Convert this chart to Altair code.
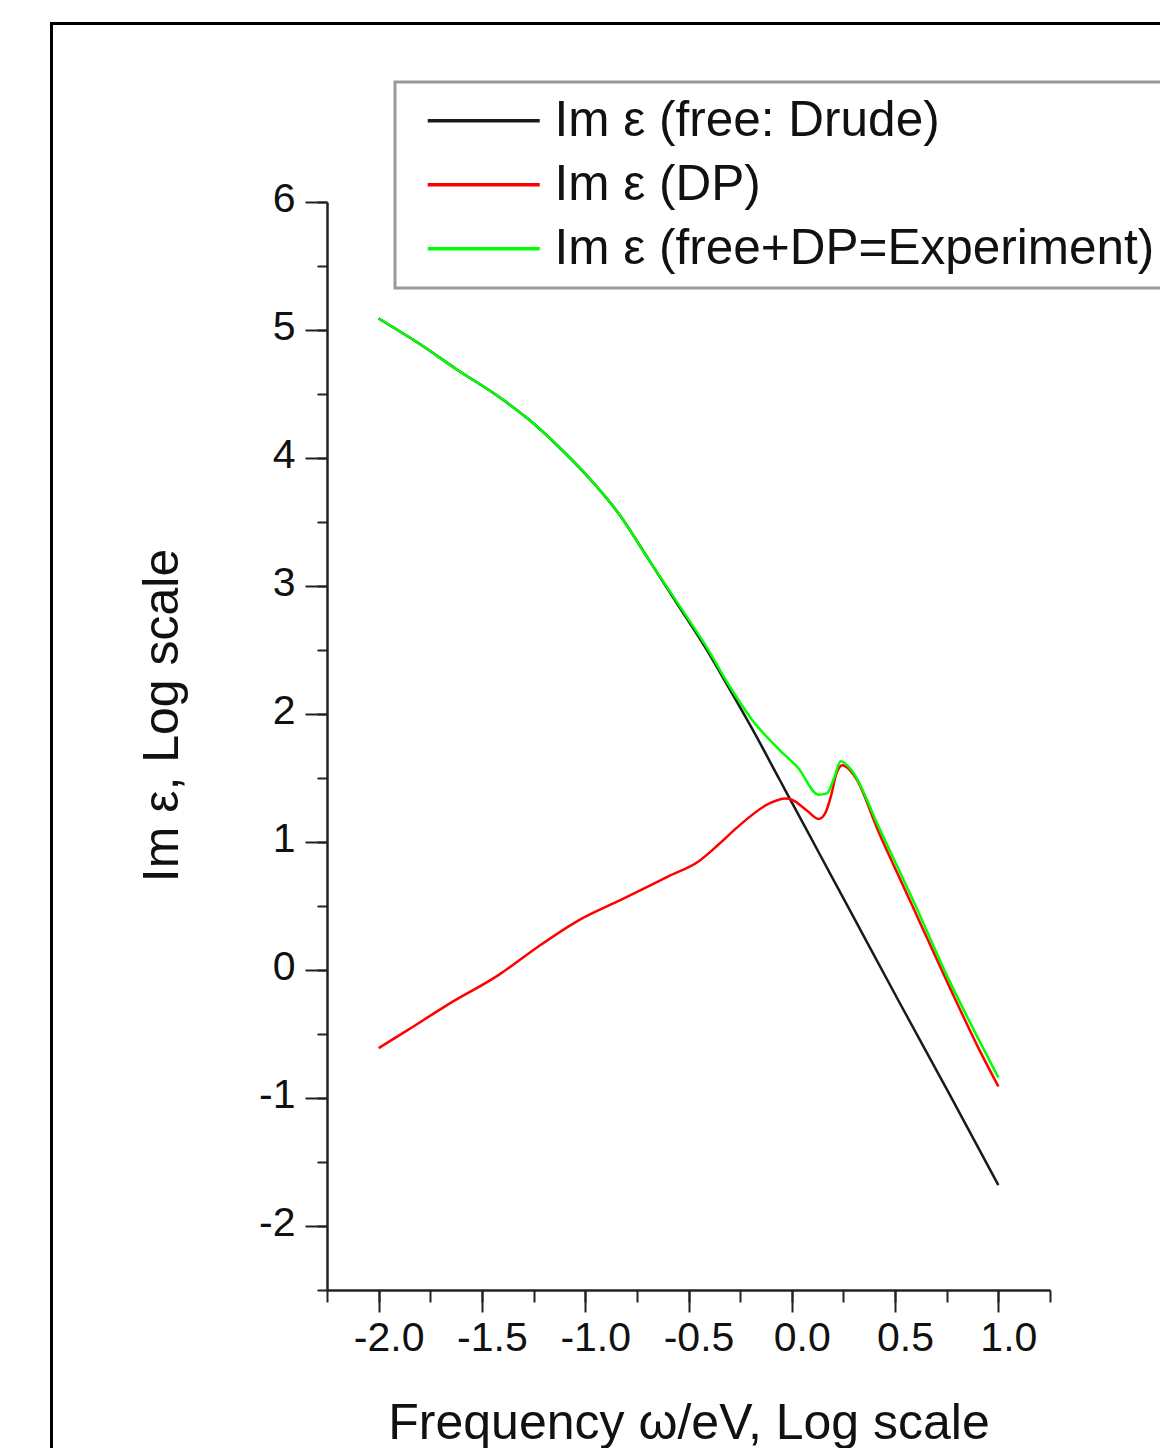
import altair as alt
import pandas as pd

# ---------------- data ----------------
series_names = ["Im ε (free: Drude)", "Im ε (DP)", "Im ε (free+DP=Experiment)"]
series_colors = ["#1a1a1a", "#ff0000", "#00ff00"]

drude_x = [-2.0, -1.81, -1.62, -1.42, -1.28, -1.13, -0.985, -0.84, -0.69, -0.55,
           -0.40, -0.31, -0.19, -0.06, 0.0, 0.13, 0.29, 0.52, 0.76, 1.0]
drude_y = [5.09, 4.90, 4.69, 4.48, 4.31, 4.09, 3.85, 3.57, 3.20, 2.85,
           2.47, 2.22, 1.88, 1.49, 1.31, 0.92, 0.44, -0.25, -0.96, -1.68]

dp_x = [-2.0, -1.86, -1.665, -1.42, -1.23, -1.03, -0.825, -0.6, -0.45, -0.355,
        -0.26, -0.11, -0.03, 0.0, 0.07, 0.13, 0.16, 0.19, 0.215, 0.245, 0.26,
        0.31, 0.42, 0.57, 0.76, 0.91, 1.0]
dp_y = [-0.61, -0.47, -0.27, -0.04, 0.18, 0.39, 0.55, 0.73, 0.85, 0.98,
        1.12, 1.30, 1.34, 1.33, 1.25, 1.18, 1.22, 1.36, 1.53, 1.60, 1.59,
        1.50, 1.08, 0.55, -0.12, -0.63, -0.91]

exp_x = [-2.0, -1.81, -1.62, -1.42, -1.28, -1.13, -0.985, -0.84, -0.69, -0.55,
         -0.40, -0.31, -0.19, -0.06, 0.03, 0.13, 0.17, 0.205, 0.236, 0.29,
         0.42, 0.58, 0.75, 0.91, 1.0]
exp_y = [5.09, 4.90, 4.69, 4.48, 4.31, 4.09, 3.85, 3.57, 3.20, 2.86,
         2.49, 2.24, 1.95, 1.72, 1.58, 1.37, 1.38, 1.50, 1.63, 1.56,
         1.12, 0.57, -0.04, -0.56, -0.84]

x_major = [-2.0, -1.5, -1.0, -0.5, 0.0, 0.5, 1.0]
x_minor = [-2.25, -2.0, -1.75, -1.5, -1.25, -1.0, -0.75, -0.5, -0.25, 0.0,
           0.25, 0.5, 0.75, 1.0, 1.25]
y_major = [-2, -1, 0, 1, 2, 3, 4, 5, 6]
y_minor = [-2.5, -2.0, -1.5, -1.0, -0.5, 0.0, 0.5, 1.0, 1.5, 2.0, 2.5, 3.0,
           3.5, 4.0, 4.5, 5.0, 5.5, 6.0]

x_title = "Frequency ω/eV, Log scale"
y_title = "Im ε, Log scale"

# ---------------- table ----------------
rows = []
for name, xs, ys in zip(series_names, [drude_x, dp_x, exp_x], [drude_y, dp_y, exp_y]):
    for xv, yv in zip(xs, ys):
        rows.append({"freq": xv, "im": yv, "series": name})
df = pd.DataFrame(rows)

FONT = "Liberation Sans"
TXT = "#111111"

xscale = alt.Scale(domain=[-2.25, 1.25], nice=False, zero=False)
yscale = alt.Scale(domain=[-2.5, 6], nice=False, zero=False)

neg_fmt_x = "datum.value < 0 ? '-' + format(-datum.value, '.1f') : format(datum.value, '.1f')"
neg_fmt_y = "datum.value < 0 ? '-' + format(-datum.value, 'd') : format(datum.value, 'd')"

x_axis_major = alt.Axis(
    orient="bottom", values=x_major, labelExpr=neg_fmt_x, grid=False,
    tickSize=22, tickWidth=2, tickColor="#222222",
    domainColor="#222222", domainWidth=2.5,
    labelFont=FONT, labelFontSize=41, labelColor=TXT, labelPadding=6,
    labelOffset=10,
    title=x_title, titleFont=FONT, titleFontSize=50, titleFontWeight="normal",
    titleColor=TXT, titleX=361.5, titleY=148, titleBaseline="alphabetic",
    titleAlign="center",
)
y_axis_major = alt.Axis(
    orient="left", values=y_major, labelExpr=neg_fmt_y, grid=False,
    tickSize=22, tickWidth=2, tickColor="#222222",
    domainColor="#222222", domainWidth=2.5,
    labelFont=FONT, labelFontSize=41, labelColor=TXT, labelPadding=10,
    labelOffset=-3,
    title=y_title, titleFont=FONT, titleFontSize=50, titleFontWeight="normal",
    titleColor=TXT, titleX=-150, titleY=513, titleBaseline="alphabetic",
    titleAlign="center", titleAngle=270,
)
x_axis_minor = alt.Axis(
    orient="bottom", values=x_minor, labels=False, domain=False, grid=False,
    tickSize=12, tickWidth=2, tickColor="#222222", title=None,
)
y_axis_minor = alt.Axis(
    orient="left", values=y_minor, labels=False, domain=False, grid=False,
    tickSize=10, tickWidth=2, tickColor="#222222", title=None,
)

frame = alt.Chart(alt.Data(values=[{"k": 1}])).mark_rect(
    fill="transparent", stroke="#000000", strokeWidth=3, clip=False
).encode(
    x=alt.value(-275.5), x2=alt.value(1000), y=alt.value(-178.5), y2=alt.value(1400)
)

minor = alt.Chart(df).mark_point(opacity=0).encode(
    x=alt.X("freq:Q", scale=xscale, axis=x_axis_minor),
    y=alt.Y("im:Q", scale=yscale, axis=y_axis_minor),
)

lines = alt.Chart(df).mark_line(strokeWidth=2.5, interpolate="monotone").encode(
    x=alt.X("freq:Q", scale=xscale, axis=x_axis_major),
    y=alt.Y("im:Q", scale=yscale, axis=y_axis_major),
    color=alt.Color(
        "series:N",
        scale=alt.Scale(domain=series_names, range=series_colors),
        legend=alt.Legend(
            title=None, orient="none", legendX=68, legendY=-120,
            symbolType="M-0.6,0L10.6,0", symbolSize=400, symbolStrokeWidth=3.5,
            labelFont=FONT, labelFontSize=49.5, labelColor=TXT, labelLimit=1500,
            labelOffset=96, padding=14, rowPadding=13,
            strokeColor="#999999", fillColor="#ffffff",
        ),
    ),
)

chart = alt.layer(frame, minor, lines).resolve_axis(
    x="independent", y="independent"
).properties(
    width=723, height=1088,
    autosize=alt.AutoSizeParams(type="none"),
    padding={"left": 319, "top": 194, "right": 110, "bottom": 158},
).configure_view(stroke=None).configure_legend(strokeWidth=3)

chart.save("out.html", embed_options={"renderer": "svg", "actions": False})
